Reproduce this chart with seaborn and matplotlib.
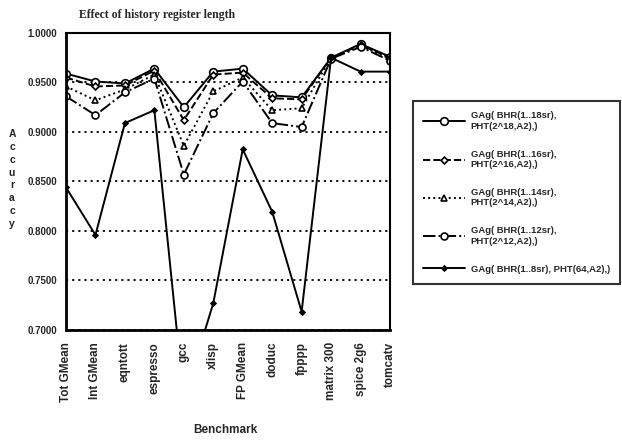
import matplotlib
matplotlib.use("Agg")
import matplotlib.pyplot as plt
import seaborn as sns
import pandas as pd

# Data
benchmarks = ["Tot GMean", "Int GMean", "eqntott", "espresso", "gcc", "xlisp",
              "FP GMean", "doduc", "fpppp", "matrix 300", "spice 2g6", "tomcatv"]

bhr18 = [0.959, 0.951, 0.949, 0.964, 0.925, 0.961, 0.964, 0.937, 0.935, 0.975, 0.989, 0.976]
bhr16 = [0.955, 0.946, 0.947, 0.962, 0.912, 0.958, 0.960, 0.934, 0.933, 0.975, 0.988, 0.975]
bhr14 = [0.946, 0.932, 0.943, 0.958, 0.886, 0.941, 0.955, 0.922, 0.924, 0.975, 0.987, 0.974]
bhr12 = [0.936, 0.917, 0.940, 0.954, 0.857, 0.919, 0.951, 0.909, 0.905, 0.974, 0.986, 0.972]
bhr8 = [0.844, 0.796, 0.909, 0.922, 0.630, 0.727, 0.8825, 0.8195, 0.7185, 0.975, 0.961, 0.961]

labels = ["GAg( BHR(1..18sr),\nPHT(2^18,A2),)",
          "GAg( BHR(1..16sr),\nPHT(2^16,A2),)",
          "GAg( BHR(1..14sr),\nPHT(2^14,A2),)",
          "GAg( BHR(1..12sr),\nPHT(2^12,A2),)",
          "GAg( BHR(1..8sr), PHT(64,A2),)"]

yticks = [0.70, 0.75, 0.80, 0.85, 0.90, 0.95, 1.00]

sns.set_style("white")
plt.rcParams["font.family"] = ["Liberation Sans", "DejaVu Sans"]

fig = plt.figure(figsize=(6.22, 4.40), dpi=100)
ax = fig.add_axes([66 / 622, 1 - 330 / 440, (390 - 66) / 622, (330 - 33) / 440])

x = list(range(len(benchmarks)))
styles = [
    (bhr18, "-", "o", 5.5, "white"),
    (bhr16, "--", "D", 3.5, "white"),
    (bhr14, ":", "^", 5, "white"),
    (bhr12, "-.", "o", 5, "white"),
    (bhr8, "-", "D", 2.5, "black"),
]
for (vals, ls, mk, ms, mfc), lab in zip(styles, labels):
    df = pd.DataFrame({"x": x, "y": vals})
    sns.lineplot(data=df, x="x", y="y", ax=ax, color="black", linestyle=ls,
                 marker=mk, markersize=ms, markerfacecolor=mfc,
                 markeredgecolor="black", markeredgewidth=1.2, linewidth=1.4,
                 label=lab, sort=False)

ax.set_xlim(0, len(benchmarks) - 1)
ax.set_ylim(0.70, 1.00)
ax.set_xticks(x)
ax.set_xticklabels(benchmarks, rotation=90, fontsize=8.5, fontweight="bold")
ax.set_yticks(yticks)
ax.set_yticklabels([f"{v:.4f}" for v in yticks], fontsize=7, fontweight="bold")
ax.tick_params(axis="both", direction="inout", length=5, width=1.2, color="black", pad=4)
ax.tick_params(axis="x", pad=6)

ax.yaxis.grid(True, linestyle=(0, (1.2, 2.2)), color="black", linewidth=1.3)
ax.xaxis.grid(False)
for sp in ax.spines.values():
    sp.set_visible(True)
    sp.set_color("black")
    sp.set_linewidth(1.5)
ax.spines["left"].set_linewidth(2)
ax.spines["bottom"].set_linewidth(2)

ax.set_xlabel("")
ax.set_ylabel("")
fig.text(225 / 622, 1 - 430 / 440, "Benchmark", ha="center", va="center",
         fontsize=8.5, fontweight="bold")
fig.text(12 / 622, 1 - 179 / 440, "\n".join("Accuracy"), ha="center", va="center",
         fontsize=7.5, fontweight="bold", linespacing=1.35)
fig.text(157 / 622, 1 - 15 / 440, "Effect of history register length", ha="center",
         va="center", fontsize=8.5, fontweight="bold", family=["Liberation Serif"])

leg = ax.legend(loc="upper left", bbox_to_anchor=(413 / 622, 1 - 101 / 440),
                bbox_transform=fig.transFigure, frameon=True, fancybox=False,
                prop={"weight": "bold", "size": 6.8},
                handlelength=4.4, labelspacing=2.0, borderpad=1.1,
                handletextpad=0.6, borderaxespad=0)
leg.get_frame().set_edgecolor("black")
leg.get_frame().set_linewidth(1.5)

fig.savefig("out.png", dpi=100)
